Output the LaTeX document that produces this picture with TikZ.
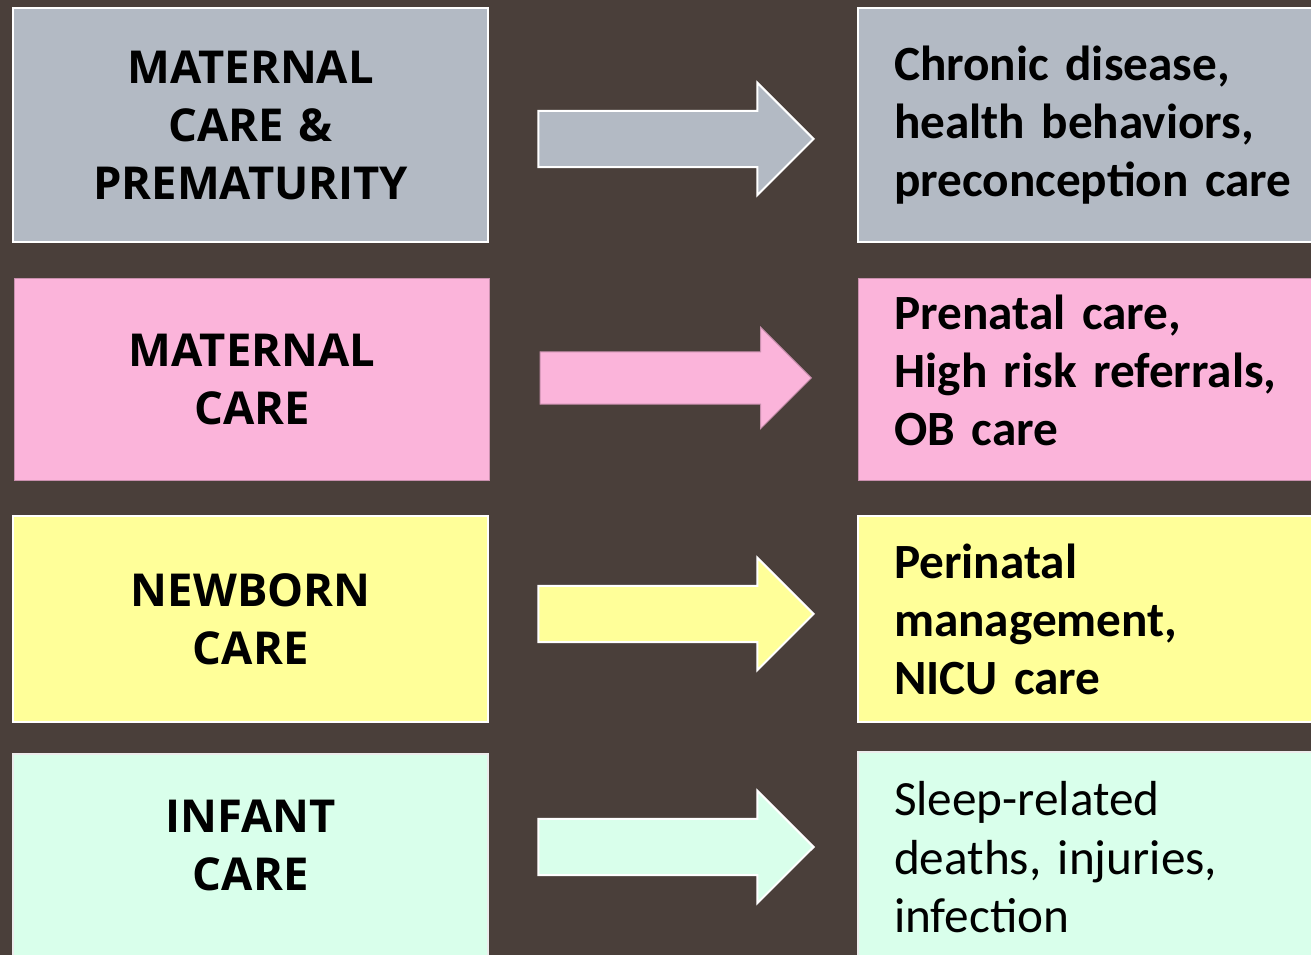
\documentclass[tikz,border=0pt]{standalone}
\usepackage{fontspec}
\setmainfont{Carlito}
\newfontfamily\headfont{Open Sans}
\usetikzlibrary{shapes.arrows}
\frenchspacing
\definecolor{bgbrown}{HTML}{4A3F3A}
\definecolor{cgray}{HTML}{B3BAC4}
\definecolor{cpink}{HTML}{FBB4DA}
\definecolor{cyellow}{HTML}{FFFF99}
\definecolor{cmint}{HTML}{D9FFEB}
\tikzset{
  topic/.style={rectangle, fill=#1, draw=white, line width=0.6pt, anchor=north west,
                text width=4.75cm, align=center, inner sep=0pt,
                font=\headfont\fontsize{12.9}{16.5}\selectfont\bfseries},
  focus/.style={rectangle, fill=#1, draw=white, line width=0.6pt, anchor=north west,
                text width=4.3cm, align=left, inner xsep=0.36cm, inner ysep=0pt,
                font=\fontsize{14.0}{16.5}\selectfont\bfseries},
  push/.style={shape=single arrow, fill=#1, draw=white, line width=0.6pt, anchor=tip,
               single arrow head extend=0.28cm, minimum height=2.75cm,
               inner xsep=0pt, inner ysep=0.27cm},
}

\begin{document}
\begin{tikzpicture}[x=0.01cm, y=-0.01cm]
  \useasboundingbox (0,0) rectangle (1311,955);
  \clip (0,0) rectangle (1311,955);
  \fill[bgbrown] (0,0) rectangle (1311,955);
  % left column
  \node[topic=cgray, minimum height=2.34cm] (m1) at (12,7) {MATERNAL\\CARE \&\\PREMATURITY};
  \node[topic=cpink, draw=cpink!80!black, line width=0.3pt, minimum height=2.02cm] (m2) at (14,278) {MATERNAL\\CARE};
  \node[topic=cyellow, minimum height=2.06cm] (m3) at (12,515) {NEWBORN\\CARE};
  \node[topic=cmint, draw=white!85!gray, minimum height=2.1cm, text depth=0.862cm] (m4) at (12,753) {INFANT\\CARE};
  % right column
  \node[focus=cgray, minimum height=2.34cm] (r1) at (857,7) {Chronic disease,\\health behaviors,\\preconception care};
  \node[focus=cpink, draw=cpink!80!black, line width=0.3pt, minimum height=2.02cm, text depth=1.344cm] (r2) at (858,278) {Prenatal care,\\High risk referrals,\\OB care};
  \node[focus=cyellow, minimum height=2.06cm] (r3) at (857,515) {Perinatal\\management,\\NICU care};
  \node[focus=cmint, draw=white!85!gray, font=\fontsize{14.0}{16.5}\selectfont, minimum height=2.1cm] (r4) at (857,751) {Sleep-related\\deaths, injuries,\\infection};
  % arrows
  \node[push=cgray] (a1) at (815,139) {};
  \node[push=cpink, draw=cpink!80!black, line width=0.3pt, minimum height=2.71cm,
        single arrow head extend=0.245cm, inner ysep=0.255cm] (a2) at (812,378) {};
  \node[push=cyellow] (a3) at (815,614) {};
  \node[push=cmint] (a4) at (815,847) {};
\end{tikzpicture}
\end{document}
